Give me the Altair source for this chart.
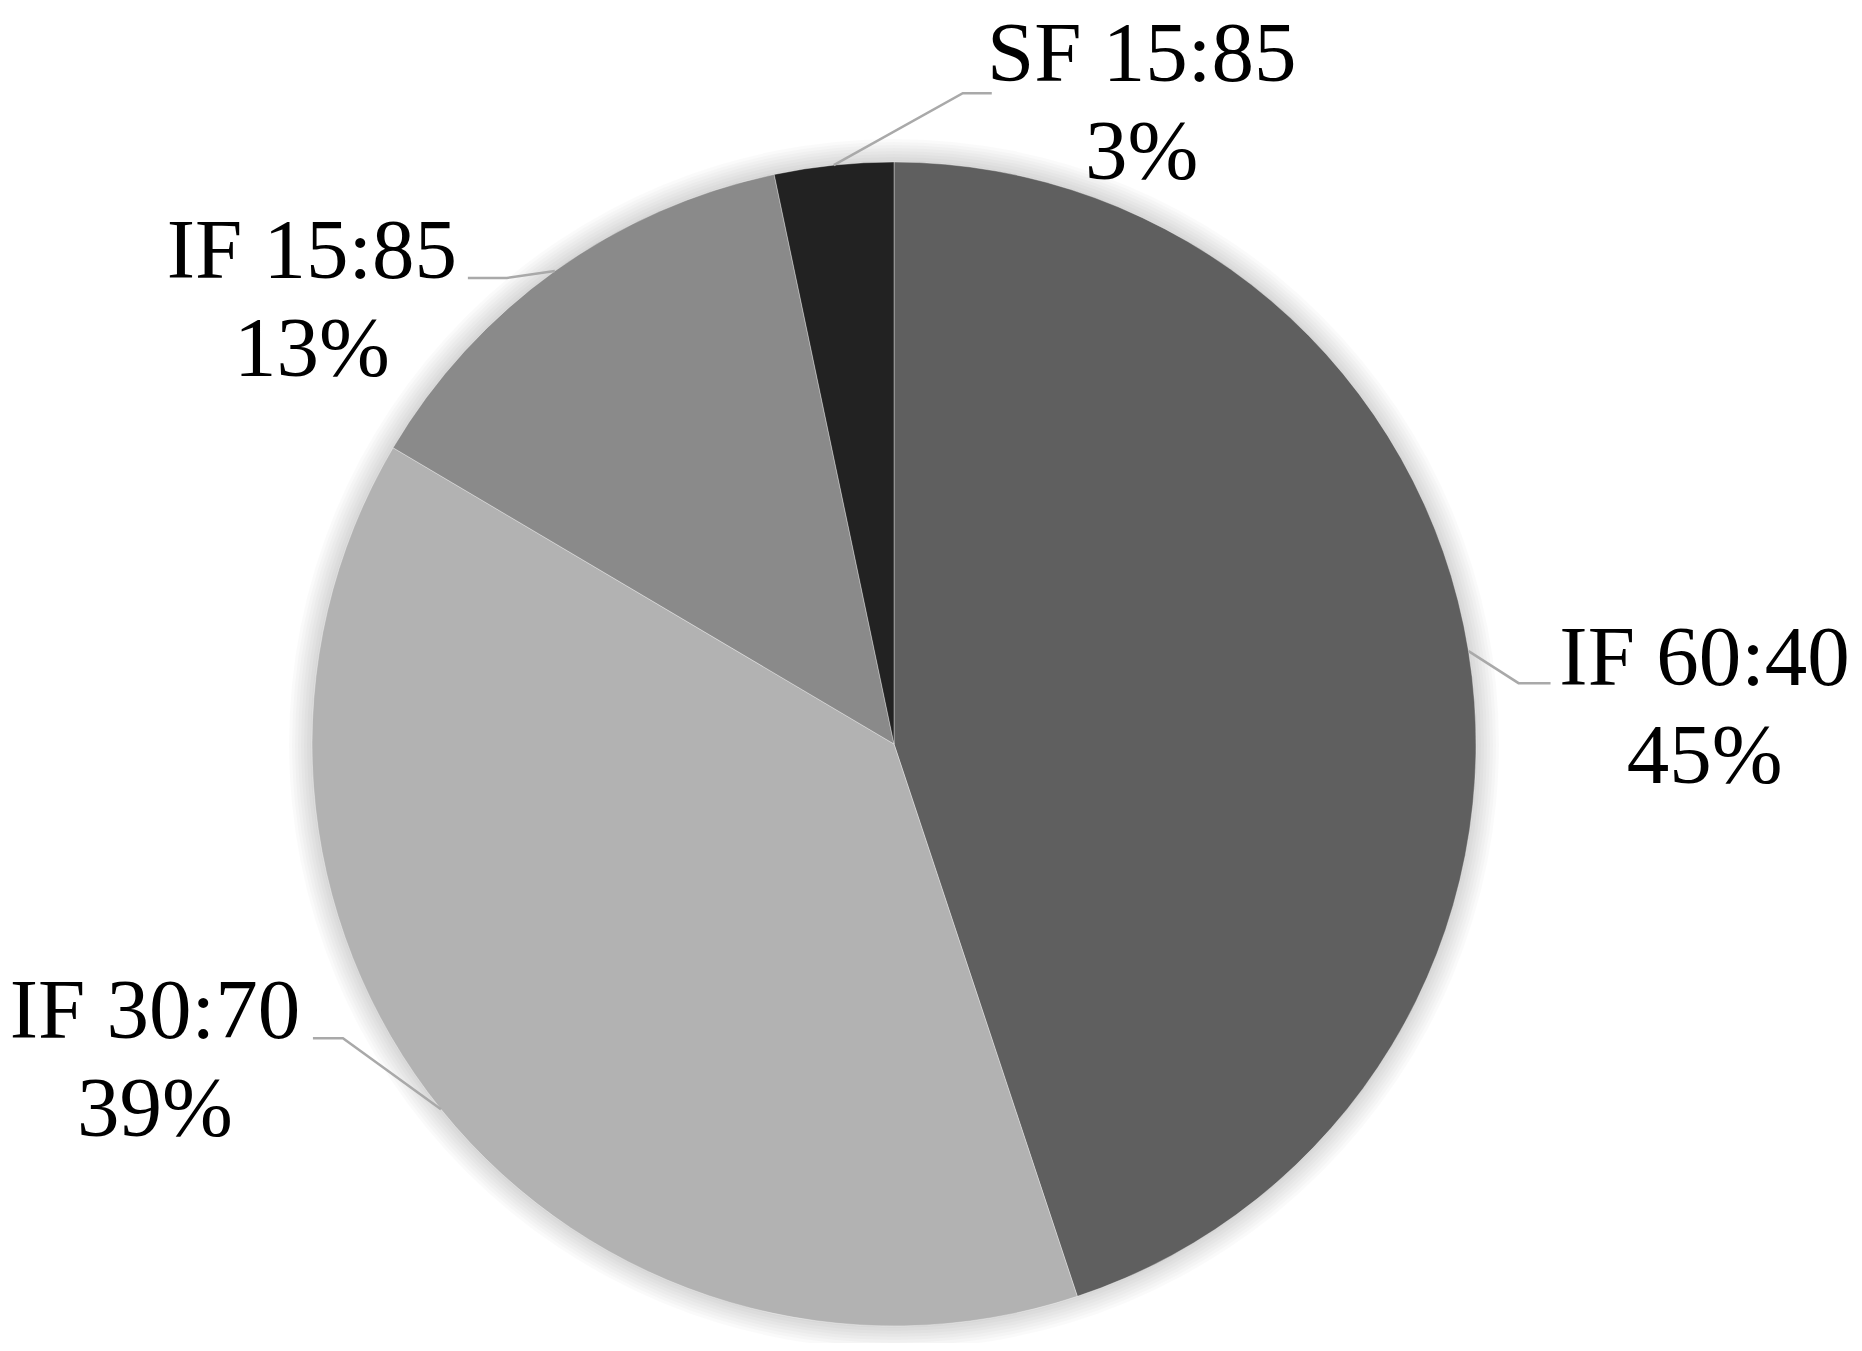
import math
import altair as alt
import pandas as pd

# ---- data ----
categories = ["IF 60:40", "IF 30:70", "IF 15:85", "SF 15:85"]
values = [44.9, 38.6, 13.2, 3.3]
colors = ["#5f5f5f", "#b2b2b2", "#8a8a8a", "#222222"]

# ---- layout (pixels) ----
W, H = 1846, 1335
CX, CY = 886, 736          # pie centre inside the plot area
R = 582                    # pie radius
# leader-line elbow / end offsets from the slice edge point (x right, y down)
elbow_off = [(50, 32), (-98, -71), (-48, 7), (129, -72)]
end_off = [(82, 32), (-128, -71), (-87, 7), (158, -72)]
# label (first-line baseline, centred) offset from the leader end
label_off = [(154, 2), (-158, 0), (-156, 0), (150, -12)]

total = sum(values)
pie_rows, line_rows, text_rows = [], [], []
cum = 0.0
for i, (c, v) in enumerate(zip(categories, values)):
    pie_rows.append({"cat": c, "val": v, "ord": i, "x": 0, "y": 0})
    mid = (cum + v / 2) / total * 2 * math.pi
    cum += v
    ex, ey = R * math.sin(mid), R * math.cos(mid)
    pts = [(ex, ey),
           (ex + elbow_off[i][0], ey - elbow_off[i][1]),
           (ex + end_off[i][0], ey - end_off[i][1])]
    for k, (px, py) in enumerate(pts):
        line_rows.append({"cat": c, "k": k, "x": px, "y": py})
    lx = pts[2][0] + label_off[i][0]
    ly = pts[2][1] - label_off[i][1]
    text_rows.append({"cat": c, "x": lx, "y": ly,
                      "label": f"{c}\n{round(v / total * 100)}%"})

pie_df = pd.DataFrame(pie_rows)
line_df = pd.DataFrame(line_rows)
text_df = pd.DataFrame(text_rows)
centre_df = pd.DataFrame({"x": [0], "y": [0]})

xs = alt.Scale(domain=[-CX, W - CX], nice=False, zero=False)
ys = alt.Scale(domain=[-(H - CY), CY], nice=False, zero=False)
X = alt.X("x:Q", scale=xs, axis=None)
Y = alt.Y("y:Q", scale=ys, axis=None)

# soft glow/shadow around the pie: a few faint concentric discs
shadow_layers = [
    alt.Chart(centre_df).mark_arc(
        theta=0, theta2=2 * math.pi, radius=R + d, color="#000000", opacity=0.018
    ).encode(x=X, y=Y)
    for d in range(2, 26, 3)
]

pie = alt.Chart(pie_df).mark_arc(
    radius=R, stroke="#ffffff", strokeWidth=1, strokeOpacity=0.35
).encode(
    x=X, y=Y,
    theta=alt.Theta("val:Q", stack=True),
    order=alt.Order("ord:Q"),
    color=alt.Color("cat:N", scale=alt.Scale(domain=categories, range=colors), legend=None),
)

leaders = alt.Chart(line_df).mark_line(color="#a9a9a9", strokeWidth=2.5).encode(
    x=X, y=Y, detail="cat:N", order="k:Q"
)

labels = alt.Chart(text_df).mark_text(
    font="Liberation Serif", fontSize=85, align="center", baseline="alphabetic",
    lineBreak="\n", lineHeight=98, color="#000000"
).encode(x=X, y=Y, text="label:N")

chart = alt.layer(*shadow_layers, pie, leaders, labels).properties(
    width=W, height=H, padding=0, background="#ffffff",
    autosize=alt.AutoSizeParams(type="none"),
).configure_view(stroke=None, fill="#ffffff")

chart.save("out.html", embed_options={"renderer": "svg", "actions": False})
